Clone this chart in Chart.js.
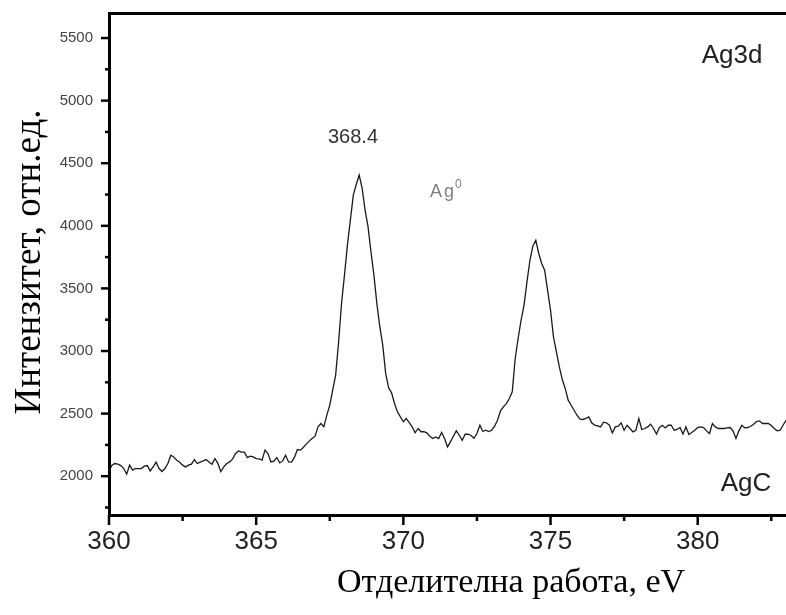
<!DOCTYPE html>
<html>
<head>
<meta charset="utf-8">
<script src="https://cdn.jsdelivr.net/npm/chart.js@4"></script>
<style>
body { margin: 0; background: #fff; }
canvas { display: block; }
</style>
</head>
<body>
<canvas id="chart" width="786" height="615"></canvas>
<script>
// binding energy, eV (step 0.1)
const energies = [
  360.0, 360.1, 360.2, 360.3, 360.4, 360.5, 360.6, 360.7, 360.8, 360.9,
  361.0, 361.1, 361.2, 361.3, 361.4, 361.5, 361.6, 361.7, 361.8, 361.9,
  362.0, 362.1, 362.2, 362.3, 362.4, 362.5, 362.6, 362.7, 362.8, 362.9,
  363.0, 363.1, 363.2, 363.3, 363.4, 363.5, 363.6, 363.7, 363.8, 363.9,
  364.0, 364.1, 364.2, 364.3, 364.4, 364.5, 364.6, 364.7, 364.8, 364.9,
  365.0, 365.1, 365.2, 365.3, 365.4, 365.5, 365.6, 365.7, 365.8, 365.9,
  366.0, 366.1, 366.2, 366.3, 366.4, 366.5, 366.6, 366.7, 366.8, 366.9,
  367.0, 367.1, 367.2, 367.3, 367.4, 367.5, 367.6, 367.7, 367.8, 367.9,
  368.0, 368.1, 368.2, 368.3, 368.4, 368.5, 368.6, 368.7, 368.8, 368.9,
  369.0, 369.1, 369.2, 369.3, 369.4, 369.5, 369.6, 369.7, 369.8, 369.9,
  370.0, 370.1, 370.2, 370.3, 370.4, 370.5, 370.6, 370.7, 370.8, 370.9,
  371.0, 371.1, 371.2, 371.3, 371.4, 371.5, 371.6, 371.7, 371.8, 371.9,
  372.0, 372.1, 372.2, 372.3, 372.4, 372.5, 372.6, 372.7, 372.8, 372.9,
  373.0, 373.1, 373.2, 373.3, 373.4, 373.5, 373.6, 373.7, 373.8, 373.9,
  374.0, 374.1, 374.2, 374.3, 374.4, 374.5, 374.6, 374.7, 374.8, 374.9,
  375.0, 375.1, 375.2, 375.3, 375.4, 375.5, 375.6, 375.7, 375.8, 375.9,
  376.0, 376.1, 376.2, 376.3, 376.4, 376.5, 376.6, 376.7, 376.8, 376.9,
  377.0, 377.1, 377.2, 377.3, 377.4, 377.5, 377.6, 377.7, 377.8, 377.9,
  378.0, 378.1, 378.2, 378.3, 378.4, 378.5, 378.6, 378.7, 378.8, 378.9,
  379.0, 379.1, 379.2, 379.3, 379.4, 379.5, 379.6, 379.7, 379.8, 379.9,
  380.0, 380.1, 380.2, 380.3, 380.4, 380.5, 380.6, 380.7, 380.8, 380.9,
  381.0, 381.1, 381.2, 381.3, 381.4, 381.5, 381.6, 381.7, 381.8, 381.9,
  382.0, 382.1, 382.2, 382.3, 382.4, 382.5, 382.6, 382.7, 382.8, 382.9,
  383.0
];

// Ag3d intensity, arb. units
const intensities = [
  2040, 2088, 2101, 2096, 2085, 2061, 2016, 2088, 2048, 2061,
  2061, 2061, 2080, 2085, 2042, 2074, 2112, 2061, 2037, 2061,
  2101, 2168, 2154, 2128, 2112, 2088, 2074, 2088, 2096, 2133,
  2101, 2112, 2122, 2133, 2114, 2096, 2141, 2101, 2037, 2074,
  2101, 2114, 2138, 2181, 2202, 2192, 2192, 2149, 2160, 2154,
  2141, 2138, 2128, 2208, 2181, 2114, 2120, 2149, 2106, 2122,
  2168, 2114, 2112, 2150, 2213, 2208, 2229, 2256, 2280, 2301,
  2320, 2395, 2421, 2395, 2488, 2568, 2688, 2807, 3070, 3380,
  3606, 3846, 4046, 4245, 4330, 4405, 4299, 4126, 3993, 3793,
  3606, 3380, 3194, 3047, 2821, 2706, 2666, 2581, 2514, 2474,
  2435, 2461, 2427, 2395, 2347, 2381, 2355, 2355, 2346, 2319,
  2301, 2314, 2301, 2349, 2301, 2234, 2274, 2319, 2362, 2327,
  2287, 2335, 2335, 2325, 2303, 2341, 2407, 2357, 2367, 2357,
  2367, 2399, 2447, 2522, 2554, 2580, 2620, 2674, 2940, 3100,
  3246, 3366, 3552, 3725, 3837, 3885, 3779, 3699, 3646, 3486,
  3326, 3113, 2993, 2873, 2772, 2700, 2607, 2567, 2527, 2487,
  2455, 2453, 2461, 2474, 2426, 2407, 2402, 2394, 2431, 2426,
  2407, 2346, 2394, 2399, 2426, 2367, 2407, 2381, 2354, 2367,
  2461, 2373, 2381, 2394, 2415, 2381, 2336, 2389, 2407, 2386,
  2407, 2407, 2367, 2373, 2389, 2336, 2394, 2333, 2349, 2367,
  2389, 2394, 2389, 2362, 2341, 2421, 2394, 2381, 2381, 2381,
  2386, 2389, 2362, 2301, 2362, 2407, 2386, 2389, 2399, 2415,
  2437, 2442, 2421, 2421, 2421, 2405, 2381, 2362, 2367, 2407,
  2447
];

// axis ticks
const xTickValues = [360, 362.5, 365, 367.5, 370, 372.5, 375, 377.5, 380, 382.5];
const xTickLabels = ['360', '', '365', '', '370', '', '375', '', '380', ''];
const yTickValues = [1750, 2000, 2250, 2500, 2750, 3000, 3250, 3500, 3750, 4000, 4250, 4500, 4750, 5000, 5250, 5500];
const yTickLabels = ['', '2000', '', '2500', '', '3000', '', '3500', '', '4000', '', '4500', '', '5000', '', '5500'];

const xTitle = 'Отделителна работа, eV';
const yTitle = 'Интензитет, отн.ед.';

const points = energies.map((e, i) => ({ x: e, y: intensities[i] }));

// no extra room for edge labels, keep the plot box fixed
function noPadding(s) {
    s.paddingTop = 0;
    s.paddingBottom = 0;
    s.paddingLeft = 0;
    s.paddingRight = 0;
}

// short/long outward tick marks
const tickMarks = {
    id: 'tickMarks',
    afterDraw(chart) {
        const ctx = chart.ctx;
        const xs = chart.scales.x, ys = chart.scales.y;
        ctx.save();
        ctx.strokeStyle = '#000';
        ctx.lineWidth = 2.5;
        xs.ticks.forEach((t, i) => {
            const px = xs.getPixelForValue(t.value);
            const len = xTickLabels[i] ? 10 : 6;
            ctx.beginPath();
            ctx.moveTo(px, xs.top);
            ctx.lineTo(px, xs.top + len);
            ctx.stroke();
        });
        ys.ticks.forEach((t, i) => {
            const py = ys.getPixelForValue(t.value);
            const len = yTickLabels[i] ? 8 : 4;
            ctx.beginPath();
            ctx.moveTo(ys.right, py);
            ctx.lineTo(ys.right - len, py);
            ctx.stroke();
        });
        ctx.restore();
    }
};

// titles and annotations
const texts = {
    id: 'texts',
    afterDraw(chart) {
        const ctx = chart.ctx;
        ctx.save();
        ctx.fillStyle = '#000';
        ctx.textBaseline = 'alphabetic';
        ctx.textAlign = 'center';
        ctx.font = '34px "Liberation Serif"';
        ctx.fillText(xTitle, 511, 592);

        ctx.save();
        ctx.translate(40, 262);
        ctx.rotate(-Math.PI / 2);
        ctx.font = '37px "Liberation Serif"';
        ctx.fillText(yTitle, 0, 0);
        ctx.restore();

        ctx.fillStyle = '#222';
        ctx.font = '26px "Liberation Sans"';
        ctx.fillText('Ag3d', 732, 63);
        ctx.fillText('AgC', 746, 491);

        ctx.font = '20px "Liberation Sans"';
        ctx.fillStyle = '#333';
        ctx.fillText('368.4', 353, 143);

        ctx.fillStyle = '#808080';
        ctx.textAlign = 'left';
        ctx.font = '18px "Liberation Sans"';
        ctx.letterSpacing = '2px';
        ctx.fillText('Ag', 430, 197);
        ctx.letterSpacing = '0px';
        ctx.font = '12px "Liberation Sans"';
        ctx.fillText('0', 455, 188);
        ctx.restore();
    }
};

const config = {
    type: 'line',
    data: {
        datasets: [{
            data: points,
            borderColor: '#1a1a1a',
            borderWidth: 1.3,
            pointRadius: 0,
            tension: 0,
            fill: false
        }]
    },
    options: {
        responsive: false,
        animation: false,
        layout: { padding: 0 },
        plugins: {
            legend: { display: false },
            tooltip: { enabled: false }
        },
        scales: {
            x: {
                type: 'linear',
                position: 'bottom',
                min: 360,
                max: 383,
                afterBuildTicks: s => { s.ticks = xTickValues.map(v => ({ value: v })); },
                afterFit: s => { s.height = 100; noPadding(s); },
                grid: { display: false, drawTicks: false },
                border: { display: true, width: 3, color: '#000' },
                ticks: {
                    autoSkip: false,
                    maxRotation: 0,
                    padding: 11,
                    color: '#222',
                    font: { family: 'Liberation Sans', size: 26 },
                    callback: (v, i) => xTickLabels[i]
                }
            },
            xTop: {
                type: 'linear',
                position: 'top',
                min: 360,
                max: 383,
                afterFit: s => { s.height = 13; noPadding(s); },
                grid: { display: false, drawTicks: false },
                border: { display: true, width: 3, color: '#000' },
                ticks: { display: false }
            },
            y: {
                type: 'linear',
                min: 1690,
                max: 5700,
                afterBuildTicks: s => { s.ticks = yTickValues.map(v => ({ value: v })); },
                afterFit: s => { s.width = 109; noPadding(s); },
                grid: { display: false, drawTicks: false },
                border: { display: true, width: 3, color: '#000' },
                ticks: {
                    autoSkip: false,
                    padding: 16,
                    color: '#444',
                    font: { family: 'Liberation Sans', size: 15 },
                    callback: (v, i) => yTickLabels[i]
                }
            }
        }
    },
    plugins: [tickMarks, texts]
};

const myChart = new Chart(document.getElementById('chart'), config);
</script>
</body>
</html>
